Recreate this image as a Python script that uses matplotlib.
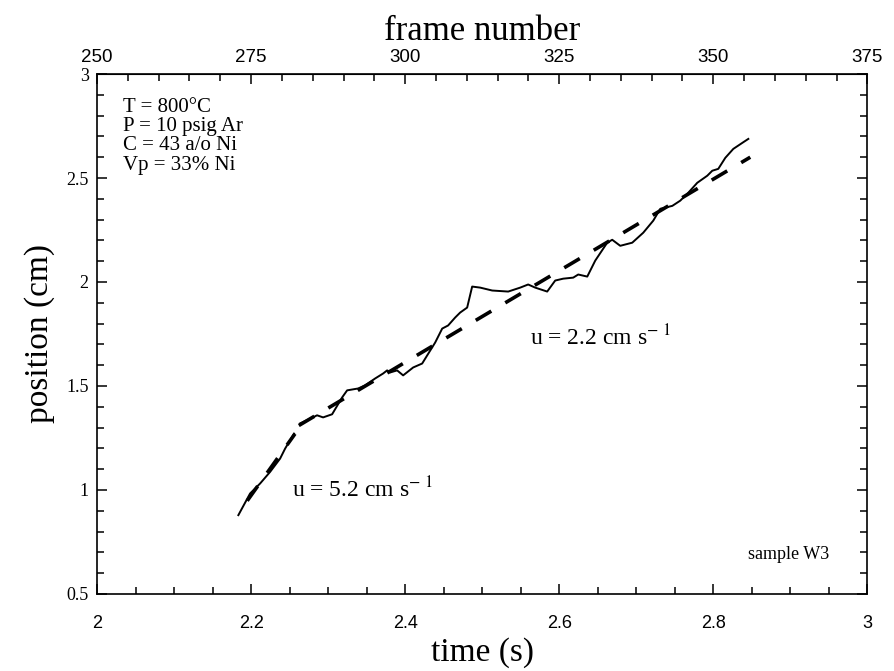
import matplotlib
matplotlib.use("Agg")
import matplotlib.pyplot as plt
from matplotlib.ticker import MultipleLocator, FixedLocator, FormatStrFormatter

## data
# early part of the front trace (fast regime)
t_early = [2.1835, 2.1987, 2.2117, 2.2247, 2.2377, 2.2442, 2.2558]
p_early = [0.879, 0.983, 1.031, 1.087, 1.151, 1.199, 1.271]

# later part of the front trace (slow regime)
t_late = [2.2636, 2.2857, 2.2935, 2.3052, 2.3182, 2.3247, 2.3390, 2.3481, 2.3610,
          2.3714, 2.3766, 2.3805, 2.3896, 2.3974, 2.4104, 2.4221, 2.4286, 2.4390,
          2.4481, 2.4558, 2.4649, 2.4714, 2.4805, 2.4870, 2.4974, 2.5130, 2.5338,
          2.5494, 2.5597, 2.5688, 2.5844, 2.5948, 2.6052, 2.6182, 2.6247, 2.6364,
          2.6468, 2.6623, 2.6688, 2.6792, 2.6948, 2.7091, 2.7221, 2.7312, 2.7468,
          2.7571, 2.7675, 2.7792, 2.7922, 2.7987, 2.8065, 2.8156, 2.8260, 2.8377,
          2.8455]
p_late = [1.320, 1.359, 1.349, 1.364, 1.445, 1.479, 1.488, 1.503, 1.536,
          1.560, 1.575, 1.565, 1.575, 1.551, 1.589, 1.608, 1.647, 1.709,
          1.776, 1.791, 1.829, 1.853, 1.877, 1.978, 1.973, 1.959, 1.954,
          1.973, 1.988, 1.973, 1.954, 2.007, 2.016, 2.021, 2.036, 2.026,
          2.103, 2.189, 2.203, 2.174, 2.189, 2.237, 2.295, 2.352, 2.366,
          2.391, 2.429, 2.477, 2.511, 2.535, 2.544, 2.597, 2.640, 2.669,
          2.688]

# straight line fits (end points)
fit1_t = [2.195, 2.257]
fit1_p = [0.948, 1.270]
fit2_t = [2.262, 2.848]
fit2_p = [1.310, 2.600]

frame_ticks = [250, 275, 300, 325, 350, 375]
conditions = ["T = 800\u00b0C", "P = 10 psig Ar", "C = 43 a/o Ni", "Vp = 33% Ni"]

serif = "Liberation Serif"
sans = "Liberation Sans"
plt.rcParams["mathtext.fontset"] = "stix"

fig = plt.figure(figsize=(8.94, 6.71), dpi=100)
ax = fig.add_axes([0.1085, 0.1148, 0.8617, 0.7749])

ax.plot(t_early, p_early, color="black", lw=1.4)
ax.plot(t_late, p_late, color="black", lw=1.4)
ax.plot(fit1_t, fit1_p, color="black", lw=2.6, dashes=(5, 4.5))
ax.plot(fit2_t, fit2_p, color="black", lw=2.6, dashes=(5, 4.5))

ax.set_xlim(2, 3)
ax.set_ylim(0.5, 3)
ax.xaxis.set_major_locator(MultipleLocator(0.2))
ax.xaxis.set_minor_locator(MultipleLocator(0.05))
ax.yaxis.set_major_locator(MultipleLocator(0.5))
ax.yaxis.set_minor_locator(MultipleLocator(0.1))
ax.xaxis.set_major_formatter(FormatStrFormatter("%g"))
ax.yaxis.set_major_formatter(FormatStrFormatter("%g"))
ax.tick_params(which="both", direction="in", right=True, top=False, width=1.1)
ax.tick_params(which="major", length=7)
ax.tick_params(which="minor", length=5)
ax.tick_params(axis="x", labelsize=13, pad=15)
ax.tick_params(axis="y", labelsize=13, pad=6)
for lab in ax.get_xticklabels():
    lab.set_family(sans)
for lab in ax.get_yticklabels():
    lab.set_family(serif)
for s in ax.spines.values():
    s.set_linewidth(1.2)

ax.set_xlabel("time (s)", family=serif, fontsize=24, labelpad=4)
ax.set_ylabel("position (cm)", family=serif, fontsize=24, labelpad=8)

# frame number axis on top
top = ax.secondary_xaxis("top", functions=(lambda t: 250 + 125 * (t - 2),
                                           lambda f: 2 + (f - 250) / 125))
top.xaxis.set_major_locator(FixedLocator(frame_ticks))
top.xaxis.set_minor_locator(FixedLocator(list(range(250, 376, 5))))
top.tick_params(which="both", direction="in", width=1.1)
top.tick_params(which="major", length=7)
top.tick_params(which="minor", length=5)
top.tick_params(labelsize=13.5, pad=6)
for lab in top.get_xticklabels():
    lab.set_family(sans)
top.set_xlabel("frame number", family=serif, fontsize=25, labelpad=6)

ax.text(2.034, 2.885, "\n".join(conditions), family=serif, fontsize=15,
        va="top", ha="left", linespacing=1.02)
ax.text(2.253, 1.0, r"u = 5.2 cm s$^{-\ 1}$", family=serif, fontsize=17,
        va="center", ha="left")
ax.text(2.562, 1.735, r"u = 2.2 cm s$^{-\ 1}$", family=serif, fontsize=17,
        va="center", ha="left")
ax.text(2.95, 0.69, "sample W3", family=serif, fontsize=13,
        va="center", ha="right")

fig.savefig("out.png", dpi=100)
